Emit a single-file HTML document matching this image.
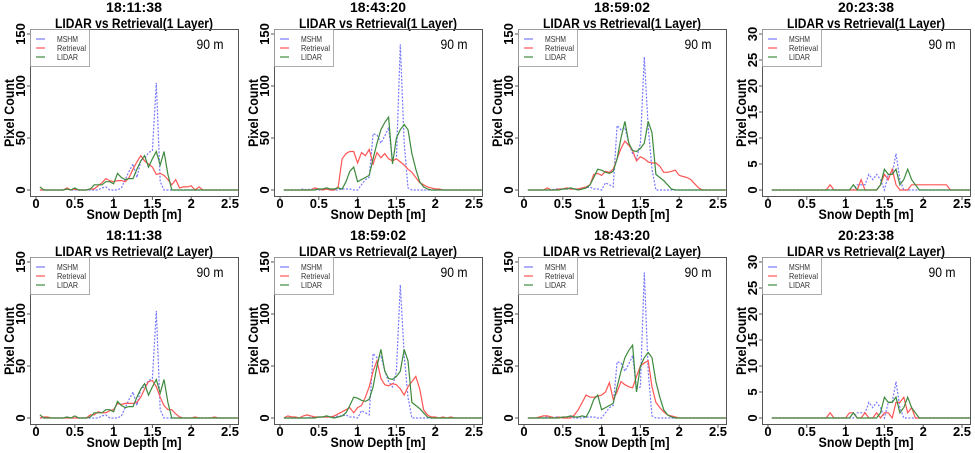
<!DOCTYPE html>
<html><head><meta charset="utf-8">
<style>
html,body{margin:0;padding:0;background:#fff;}
svg{display:block;font-family:"Liberation Sans",sans-serif;}
</style></head>
<body>
<svg id="fig" width="975" height="453" viewBox="0 0 975 453" xmlns="http://www.w3.org/2000/svg"></svg>
<script>
const depthBins=[0.05,0.1,0.15,0.2,0.25,0.3,0.35,0.4,0.45,0.5,0.55,0.6,0.65,0.7,0.75,0.8,0.85,0.9,0.95,1.0,1.05,1.1,1.15,1.2,1.25,1.3,1.35,1.4,1.45,1.5,1.55,1.6,1.65,1.7,1.75,1.8,1.85,1.9,1.95,2.0,2.05,2.1,2.15,2.2,2.25,2.3,2.35,2.4,2.45,2.5,2.55,2.6];
const xTicks=[0,0.5,1,1.5,2,2.5];
const xTickLabels=["0","0.5","1","1.5","2","2.5"];
const yTicksBig=[0,50,100,150];
const yTicksSmall=[0,5,10,15,20,25,30];
const panelTitles=["18:11:38","18:43:20","18:59:02","20:23:38","18:11:38","18:59:02","18:43:20","20:23:38"];
const panelLayers=["1 Layer","1 Layer","1 Layer","1 Layer","2 Layer","2 Layer","2 Layer","2 Layer"];
const mshmA=[0,0,0,0,0,0,0,1,0,0, 0,0,0,0,0,0,2,3,0,0, 0,2,10,18,25,12,28,30,36,38, 103,8,0,0,0,0,0,0,0,0, 0,0,0,0,0,0,0,0,0,0, 0,0];
const lidarA=[3,0,0,0,0,0,0,1,0,2, 0,0,0,1,5,5,5,8,8,6, 16,12,10,11,11,20,28,33,22,30, 37,24,37,15,0,0,0,0,0,0, 0,0,0,0,0,0,0,0,0,0, 0,0];
const mshmB=[0,0,0,0,0,1,0,1,1,0, 0,1,0,0,0,1,1,1,0,0, 5,10,12,54,53,45,52,60,28,30, 140,45,2,0,0,0,0,0,0,0, 0,0,0,0,0,0,0,0,0,0, 0,0];
const lidarB=[0,0,0,0,0,0,0,0,0,1, 1,2,1,1,2,1,8,18,22,8, 10,12,14,30,45,58,65,70,25,50, 58,63,58,35,20,8,3,1,0,0, 0,0,0,0,0,0,0,0,0,0, 0,0];
const mshmC=[0,0,0,0,0,0,0,1,1,1, 1,1,1,1,2,2,3,1,1,0, 7,5,3,62,58,60,45,35,30,45, 128,60,20,0,0,0,0,0,0,0, 0,0,0,0,0,0,0,0,0,0, 0,0];
const lidarC=[0,0,0,0,0,0,0,0,0,1, 1,2,1,0,1,2,5,12,20,19, 17,16,18,30,50,66,45,38,37,40, 45,66,55,15,12,9,5,1,0,0, 0,0,0,0,0,0,0,0,0,0, 0,0];
const mshmD=[0,0,0,0,0,0,0,0,0,0, 0,0,0,0,0,0,0,0,0,0, 0,0,1,1,1,3,2,3,2,0, 3,3,7,2,0,0,0,0,0,0, 0,0,0,0,0,0,0,0,0,0, 0,0];
const lidarD=[0,0,0,0,0,0,0,0,0,0, 0,0,0,0,0,0,0,0,0,0, 0,1,0,0,0,0,0,0,1,4, 3,3,4,1,2,4,2,1,0,0, 0,0,0,0,0,0,0,0,0,0, 0,0];
const ret1=[0,0,0,0,0,0,0,2,0,1, 0,0,0,1,1,4,7,11,9,8, 9,9,8,12,20,27,33,28,25,22, 15,16,14,10,5,10,2,3,3,4, 0,3,0,0,0,0,0,0,0,0, 0,0];
const ret2=[0,0,0,0,0,0,0,0,2,1, 0,1,0,0,3,30,35,37,37,26, 36,33,39,25,36,31,35,30,28,30, 27,24,20,17,12,7,5,3,2,1, 1,0,0,0,0,0,0,0,0,0, 0,0];
const ret3=[0,0,0,0,0,2,0,0,1,1, 2,1,1,1,2,3,5,15,16,14, 18,17,20,30,40,47,43,38,28,32, 30,27,26,26,23,17,17,18,19,14, 13,12,10,6,2,0,0,0,0,0, 0,0];
const ret4=[0,0,0,0,0,0,0,0,0,0, 0,0,0,0,0,1,0,0,0,0, 0,0,0,2,0,0,0,0,1,3, 2,4,1,0,0,0,1,1,1,1, 1,1,1,1,1,1,0,0,0,0, 0,0];
const ret5=[0,1,1,0,0,0,0,0,0,0, 0,0,0,3,3,6,5,5,7,8, 14,13,14,14,14,15,20,28,35,36, 30,20,12,8,8,4,1,0,0,0, 1,0,0,0,0,1,0,0,0,0, 0,0];
const ret6=[0,2,1,1,0,2,3,2,1,1, 1,1,1,2,4,6,8,10,5,10, 12,20,30,45,55,38,32,31,33,32, 28,22,30,35,40,28,8,3,1,1, 0,1,0,1,0,0,0,0,0,0, 0,0];
const ret7=[0,0,0,1,2,2,1,0,1,0, 0,0,3,8,15,22,20,20,21,22, 25,34,18,25,35,32,30,29,40,50, 53,55,30,15,10,6,3,2,1,0, 0,0,0,0,0,0,0,0,0,0, 0,0];
const ret8=[0,0,0,0,0,0,0,0,0,0, 0,0,0,0,0,1,0,0,0,0, 1,1,0,0,1,0,0,1,0,1, 1,0,3,3,4,1,2,0,0,0, 0,0,0,0,0,0,0,0,0,0, 0,0];
const mshmSeries=[mshmA,mshmB,mshmC,mshmD,mshmA,mshmC,mshmB,mshmD];
const retSeries=[ret1,ret2,ret3,ret4,ret5,ret6,ret7,ret8];
const lidarSeries=[lidarA,lidarB,lidarC,lidarD,lidarA,lidarC,lidarB,lidarD];
const yMaxes=[150,150,150,30,150,150,150,30];

const NS="http://www.w3.org/2000/svg";
const svg=document.getElementById('fig');
function mk(tag,attrs,parent,text){const e=document.createElementNS(NS,tag);for(const k in attrs)e.setAttribute(k,attrs[k]);if(text!==undefined)e.textContent=text;(parent||svg).appendChild(e);return e;}
const colX=[0,244,488,732], rowY=[0,228];
for(let p=0;p<8;p++){
  const ox=colX[p%4], oy=rowY[Math.floor(p/4)];
  const g=mk('g',{transform:`translate(${ox},${oy})`});
  
  
  const ymax=yMaxes[p];
  const xs=d=>36+77.6*d;
  const ys=v=>190-156*v/ymax;
  const t1=mk('text',{x:134,y:12,'text-anchor':'middle','font-size':13.5,'font-weight':'bold',textLength:56,lengthAdjust:'spacingAndGlyphs'},g,panelTitles[p]);
  
  const t2=mk('text',{x:134,y:28,'text-anchor':'middle','font-size':13.5,'font-weight':'bold',textLength:158,lengthAdjust:'spacingAndGlyphs'},g,'LIDAR vs Retrieval('+panelLayers[p]+')');
  
  const series=[[mshmSeries[p],'#7878ff','2,1.5','mshm-line'],[retSeries[p],'#ff5555',null,'retrieval-line'],[lidarSeries[p],'#3d8a3d',null,'lidar-line']];
  series.forEach(s=>{
    const pts=depthBins.map((d,i)=>xs(d).toFixed(1)+','+ys(s[0][i]).toFixed(1)).join(' ');
    const a={points:pts,fill:'none',stroke:s[1],'stroke-width':1.2};
    if(s[2])a['stroke-dasharray']=s[2];
    const pl=mk('polyline',a,g);
    
    
  });
  const box=mk('rect',{x:30.5,y:29.5,width:208,height:167,fill:'none',stroke:'#555','stroke-width':1},g);
  
  xTicks.forEach((t,i)=>{
    mk('line',{x1:xs(t),x2:xs(t),y1:197,y2:200,stroke:'#555'},g);
    const tl=mk('text',{x:xs(t),y:208,'text-anchor':'middle','font-size':13,'font-weight':'bold'},g,xTickLabels[i]);
    
  });
  const xl=mk('text',{x:134,y:219,'text-anchor':'middle','font-size':13.5,'font-weight':'bold',textLength:95,lengthAdjust:'spacingAndGlyphs'},g,'Snow Depth [m]');
  
  const yt=ymax===150?yTicksBig:yTicksSmall;
  yt.forEach(t=>{
    mk('line',{x1:27,x2:30,y1:ys(t),y2:ys(t),stroke:'#555'},g);
    const tl=mk('text',{x:0,y:0,transform:`translate(25,${ys(t)}) rotate(-90)`,'text-anchor':'middle','font-size':13,'font-weight':'bold'},g,String(t));
    
  });
  const yl=mk('text',{x:0,y:0,transform:'translate(14,113) rotate(-90)','text-anchor':'middle','font-size':13.5,'font-weight':'bold',textLength:68,lengthAdjust:'spacingAndGlyphs'},g,'Pixel Count');
  
  const lg=mk('g',{},g);
  
  mk('rect',{x:30.5,y:29.5,width:59,height:37,fill:'#fff',stroke:'#999','stroke-width':0.8},lg);
  [['MSHM','#7878ff',39,21],['Retrieval','#ff5555',48,29],['LIDAR','#3d8a3d',57,21]].forEach(e=>{
    const le=mk('g',{},lg);
    
    mk('line',{x1:36,x2:45,y1:e[2],y2:e[2],stroke:e[1],'stroke-width':1.2},le);
    mk('text',{x:57,y:e[2]+3,'font-size':8.5,fill:'#333',textLength:e[3],lengthAdjust:'spacingAndGlyphs'},le,e[0]);
  });
  const rl=mk('text',{x:210,y:49,'text-anchor':'middle','font-size':13.5,textLength:27,lengthAdjust:'spacingAndGlyphs'},g,'90 m');
  
}
</script>
</body></html>
